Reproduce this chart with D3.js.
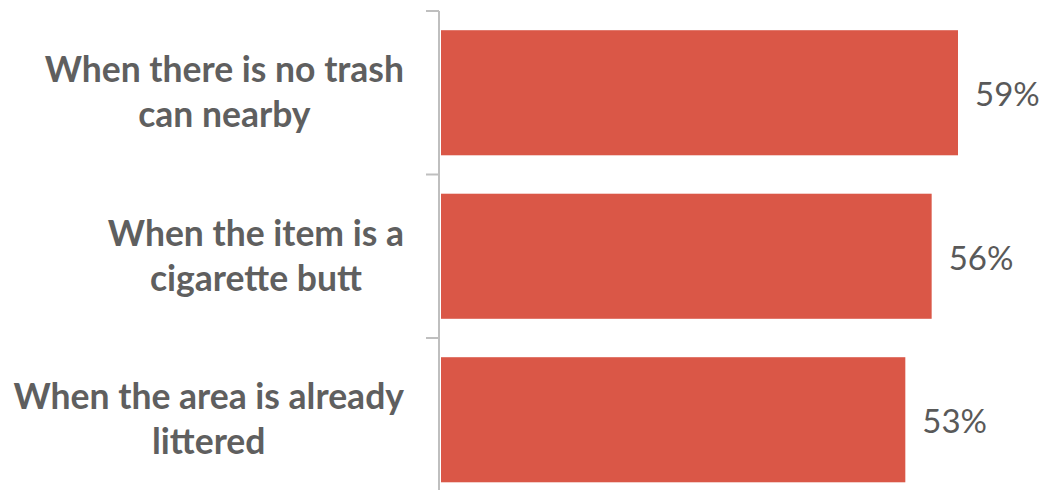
<!DOCTYPE html>
<html><head><meta charset="utf-8">
<script src="https://cdn.jsdelivr.net/npm/d3@7"></script>
<style>body{margin:0;background:#fff;} svg{display:block;}</style>
</head><body>
<svg id="chart" width="1047" height="490"></svg>
<script>
const categories = ["When there is no trash can nearby", "When the item is a cigarette butt", "When the area is already littered"];
const labelLines = [["When there is no trash", "can nearby"], ["When the item is a", "cigarette butt"], ["When the area is already", "littered"]];
const values = [59, 56, 53];
const valueLabels = ["59%", "56%", "53%"];

const svg = d3.select("#chart");
const x0 = 440;
const x = d3.scaleLinear().domain([0, 59]).range([x0, 958]);
const y = d3.scaleBand().domain(categories).range([11, 501.5]).paddingInner(0.235).paddingOuter(0.1175);
const step = y.step();

// axis
const axisColor = "#BFBFBF";
svg.append("line").attr("x1", 439).attr("x2", 439).attr("y1", y.range()[0]).attr("y2", y.range()[1])
  .attr("stroke", axisColor).attr("stroke-width", 2);
const tickYs = categories.map(c => y(c) - y.paddingInner() * step / 2).concat([y.range()[1]]);
svg.selectAll(".tick").data(tickYs).enter().append("line")
  .attr("x1", 426).attr("x2", 439).attr("y1", d => d).attr("y2", d => d)
  .attr("stroke", axisColor).attr("stroke-width", 2);

// bars
svg.selectAll(".bar").data(values).enter().append("rect")
  .attr("x", x0 + 1).attr("y", (d, i) => y(categories[i]))
  .attr("width", d => x(d) - x0 - 1).attr("height", y.bandwidth())
  .attr("fill", "#DA5747");

// value labels
svg.selectAll(".val").data(values).enter().append("text")
  .attr("x", d => x(d) + 17).attr("y", (d, i) => y(categories[i]) + y.bandwidth() / 2 + 13.5)
  .attr("font-family", "Lato, 'Open Sans', sans-serif").attr("font-size", 33)
  .attr("fill", "#595959").text((d, i) => valueLabels[i]);

// category labels
const lblFont = "Lato, 'Open Sans', sans-serif";
const g = svg.selectAll(".cat").data(labelLines).enter().append("text")
  .attr("font-family", lblFont).attr("font-weight", "bold").attr("font-size", 35.5)
  .attr("fill", "#5F5F5F").attr("text-anchor", "middle");
g.each(function(lines, i) {
  const t = d3.select(this);
  const cy = y(categories[i]) + y.bandwidth() / 2;
  lines.forEach((ln, j) => {
    t.append("tspan").attr("y", cy - 10.5 + j * 45).text(ln);
  });
});
// center block so widest line right edge is at 404
g.each(function() {
  const t = d3.select(this);
  const w = d3.max(t.selectAll("tspan").nodes(), n => n.getComputedTextLength());
  t.selectAll("tspan").attr("x", 404 - w / 2);
});
</script>
</body></html>
